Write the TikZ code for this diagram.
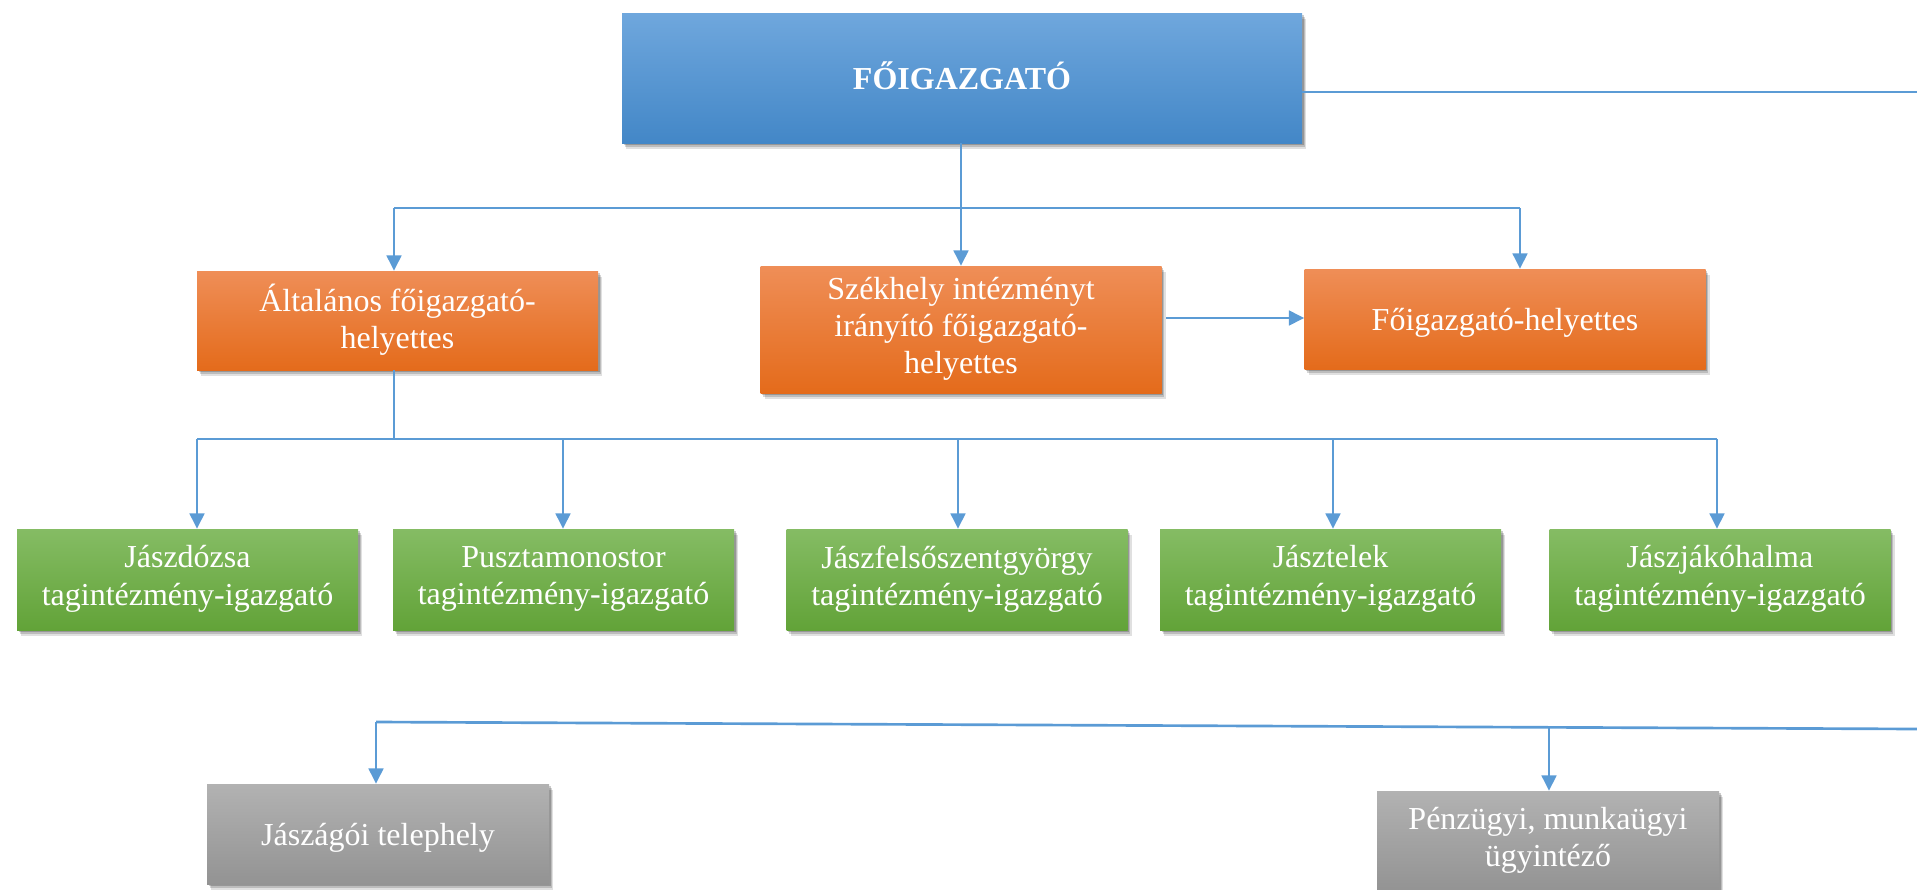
\documentclass[tikz,border=0pt]{standalone}
\usepackage{fontspec}
\setmainfont{Liberation Serif}
\usetikzlibrary{shadows,arrows.meta}
\definecolor{lineblue}{HTML}{5B9BD5}
\definecolor{blueT}{HTML}{6FA7DD}
\definecolor{blueB}{HTML}{4387C7}
\definecolor{orT}{HTML}{EF8E57}
\definecolor{orM}{HTML}{F37D2A}
\definecolor{orB}{HTML}{E46B1B}
\definecolor{grT}{HTML}{85BC64}
\definecolor{grM}{HTML}{70AF45}
\definecolor{grB}{HTML}{62A338}
\definecolor{gyT}{HTML}{B2B2B2}
\definecolor{gyB}{HTML}{939393}
\begin{document}
\begin{tikzpicture}[x=0.75pt,y=-0.75pt,
  box/.style={rectangle, text=white, align=center, inner sep=0pt,
    font=\fontsize{24}{28}\selectfont,
    execute at begin node={\rule{0pt}{0.95em}},
    execute at end node={\rule[-0.25em]{0pt}{0.25em}},
    drop shadow={shadow xshift=1.2pt,shadow yshift=-1.8pt,opacity=0.2,fill=black},
    drop shadow={shadow xshift=2.2pt,shadow yshift=-3.2pt,opacity=0.16,fill=black},
    drop shadow={shadow xshift=3.2pt,shadow yshift=-4.6pt,opacity=0.12,fill=black}},
  bluebox/.style={box, top color=blueT, bottom color=blueB, minimum width=510pt, minimum height=97.5pt},
  orbox/.style={box, top color=orT, middle color=orM, bottom color=orB, minimum width=300.75pt},
  grbox/.style={box, top color=grT, middle color=grM, bottom color=grB, minimum width=255.75pt, minimum height=75.75pt},
  gybox/.style={box, top color=gyT, bottom color=gyB, minimum width=256.5pt, minimum height=75pt},
  conn/.style={draw=lineblue, line width=2pt},
  arr/.style={conn, -{Triangle[length=11.5pt,width=11pt]}}
]
\useasboundingbox (0,0) rectangle (1917,889);

% nodes
\node[bluebox] (top) at (962,78) {\textbf{FŐIGAZGATÓ}};
\node[orbox, minimum height=74.25pt] (alt) at (397.5,320.5) {Általános főigazgató-\\helyettes};
\node[orbox, minimum height=95.25pt] (szek) at (961,329.5) {Székhely intézményt\\irányító főigazgató-\\helyettes};
\node[orbox, minimum height=75pt] (fh) at (1505,319) {Főigazgató-helyettes};

\node[grbox] (g1) at (187.5,579.5) {Jászdózsa\\tagintézmény-igazgató};
\node[grbox] (g2) at (563.5,579.5) {Pusztamonostor\\tagintézmény-igazgató};
\node[grbox] (g3) at (957,579.5) {Jászfelsőszentgyörgy\\tagintézmény-igazgató};
\node[grbox] (g4) at (1330.5,579.5) {Jásztelek\\tagintézmény-igazgató};
\node[grbox] (g5) at (1720,579.5) {Jászjákóhalma\\tagintézmény-igazgató};

\node[gybox] (t1) at (378,834) {Jászágói telephely};
\node[gybox] (t2) at (1548,841) {Pénzügyi, munkaügyi\\ügyintéző};

% coordinates
\coordinate (tr) at (1917,92);
\coordinate (bus1) at (961,208);
\coordinate (a1) at (394,208);
\coordinate (a3) at (1520,208);
\coordinate (sa) at (1166,318);
\coordinate (bus2) at (394,439);
\coordinate (b1) at (197,439);
\coordinate (b2) at (563,439);
\coordinate (b3) at (958,439);
\coordinate (b4) at (1333,439);
\coordinate (b5) at (1717,439);
\coordinate (br) at (1917,729);
\coordinate (bl) at (376,722);
\coordinate (bm) at (1549,727.5);

% connectors
\draw[conn] (top.east |- tr) -- (tr);
\draw[conn] (top.south -| bus1) -- (bus1);
\draw[conn] (a1) -- (a3);
\draw[arr] (a1) -- (a1 |- alt.north);
\draw[arr] (bus1) -- (bus1 |- szek.north);
\draw[arr] (a3) -- (a3 |- fh.north);
\draw[arr] (sa) -- (sa -| fh.west);

\draw[conn] (bus2 |- alt.south) -- (bus2);
\draw[conn] (b1) -- (b5);
\draw[arr] (b1) -- (b1 |- g1.north);
\draw[arr] (b2) -- (b2 |- g2.north);
\draw[arr] (b3) -- (b3 |- g3.north);
\draw[arr] (b4) -- (b4 |- g4.north);
\draw[arr] (b5) -- (b5 |- g5.north);

\draw[conn] (br) -- (bl);
\draw[arr] (bl) -- (bl |- t1.north);
\draw[arr] (bm) -- (bm |- t2.north);
\end{tikzpicture}
\end{document}
